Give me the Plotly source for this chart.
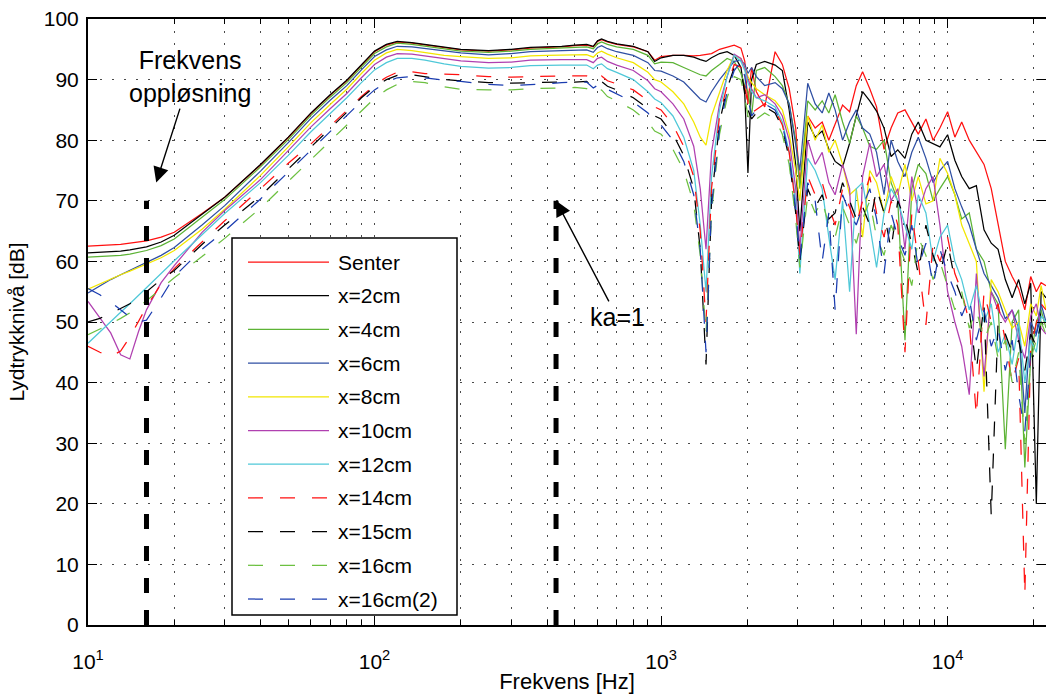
import math
import plotly.graph_objects as go

# ---------------- data ----------------
freq_hz = [
    10, 11, 12, 13, 14, 15, 16, 18, 20, 25,
    30, 40, 50, 60, 70, 80, 90, 100, 110, 120,
    135, 150, 175, 200, 250, 300, 350, 400, 450, 500,
    550, 580, 600, 620, 650, 700, 800, 900, 950, 1000,
    1100, 1200, 1300, 1370, 1435, 1500, 1600, 1700, 1800, 1900,
    1960, 2010, 2070, 2150, 2300, 2500, 2650, 2800, 2950, 3050,
    3250, 3450, 3650, 3850, 4050, 4300, 4550, 4800, 5050, 5350,
    5650, 6000, 6350, 6700, 7100, 7500, 7900, 8400, 8900, 9400,
    10000, 10600, 11200, 11900, 12600, 13400, 14200, 15000, 15900, 16800,
    17700, 18600, 19500, 20400, 21200, 22050,
]

senter = [
    62.5, 62.6, 62.7, 62.8, 63.0, 63.2, 63.4, 64.0, 64.8, 67.9,
    70.6, 75.9, 80.4, 84.4, 87.4, 89.8, 92.4, 94.6, 95.7, 96.2,
    96.0, 95.7, 95.2, 94.9, 94.7, 94.9, 95.2, 95.3, 95.4, 95.6,
    95.7, 95.4, 96.3, 96.6, 96.2, 95.8, 95.4, 94.6, 93.2, 93.8,
    94.0, 94.0, 93.9, 94.0, 94.1, 94.3, 95.0, 95.4, 95.7, 95.2,
    93.0, 86.0, 92.0, 88.0, 85.5, 94.6, 92.5, 88.5, 82.0, 73.0,
    84.0, 82.0, 83.0, 80.0, 82.8, 85.8, 84.7, 89.0, 91.3, 88.5,
    85.5, 78.5, 82.0, 84.5, 85.0, 83.0, 81.0, 83.5, 80.0, 82.0,
    84.7, 80.5, 83.0, 80.0, 78.0, 76.0, 72.0, 66.0, 60.0, 57.5,
    55.5, 52.0, 57.5, 55.0, 56.5, 56.0,
]
x_2cm = [
    61.4, 61.5, 61.6, 61.7, 61.9, 62.1, 62.4, 63.2, 64.3, 67.8,
    70.6, 76.0, 80.5, 84.5, 87.5, 89.9, 92.5, 94.7, 95.8, 96.3,
    96.1, 95.8, 95.3, 95.0, 94.8, 95.0, 95.3, 95.4, 95.5, 95.7,
    95.8, 95.5, 96.4, 96.7, 96.3, 95.9, 95.5, 94.6, 93.0, 93.6,
    94.0, 94.0, 93.7, 93.3, 93.0, 93.6, 94.3, 94.6, 94.0, 92.0,
    87.5, 74.6, 90.0, 92.5, 93.0, 92.4, 91.5, 85.0, 76.0, 65.0,
    83.0, 80.5, 81.5, 78.5, 76.5, 75.6, 79.5, 84.0, 88.0, 86.5,
    84.8, 82.0, 77.3, 78.4, 77.0, 81.0, 83.0, 80.0, 79.5, 78.9,
    80.9, 76.7, 74.0, 72.0, 72.5, 65.2, 63.0, 62.0, 57.0, 54.0,
    57.0, 53.0, 56.4, 20.0, 55.0, 54.0,
]
x_4cm = [
    60.7, 60.8, 60.9, 61.0, 61.2, 61.5, 61.8, 62.6, 63.7, 67.3,
    70.2, 75.6, 80.1, 84.1, 87.1, 89.5, 92.1, 94.3, 95.4, 96.0,
    95.8, 95.5, 95.0, 94.7, 94.5, 94.7, 95.0, 95.1, 95.2, 95.3,
    95.4, 95.1, 95.9, 96.2, 95.8, 95.4, 95.0, 94.0, 92.6, 92.9,
    92.8, 92.0, 91.2, 90.8, 90.6, 91.5, 92.5, 93.5, 93.0, 91.0,
    89.0, 88.0, 84.0, 91.5, 92.0, 90.5, 89.0, 86.0, 80.0, 72.0,
    86.5, 85.0, 86.5, 84.5, 87.5, 83.0, 79.5, 84.0, 82.0, 79.0,
    78.5, 80.0, 73.0, 70.0, 47.0, 72.0, 76.0, 74.5, 70.0, 72.0,
    74.0, 71.0, 67.0, 68.0, 62.0, 60.0, 55.0, 53.0, 29.0, 50.0,
    52.0, 26.0, 44.0, 50.0, 52.0, 49.0,
]
x_6cm = [
    54.8, 56.0, 57.0, 57.8, 58.5, 59.2, 59.8, 61.0, 62.3, 66.0,
    69.2, 74.9, 79.6, 83.6, 86.6, 89.0, 91.6, 93.8, 94.9, 95.5,
    95.4, 95.1, 94.7, 94.4, 94.1, 94.3, 94.6, 94.7, 94.7, 94.8,
    94.9, 94.5, 95.3, 95.6, 95.1, 94.6, 94.0, 92.8, 91.5, 91.4,
    90.6, 89.6, 88.0, 86.8, 86.3, 88.0, 90.0, 91.5, 93.0, 93.2,
    92.5, 91.0, 92.0, 90.5, 89.0, 89.5, 88.5, 86.0, 79.0, 75.0,
    89.4, 86.0, 84.5, 87.8, 85.0, 80.0, 83.0, 85.0, 82.0, 81.0,
    78.0, 71.0, 80.0, 76.5, 74.0, 78.0, 80.5, 77.0, 73.0, 75.0,
    76.5, 72.0, 69.0, 66.0, 62.0, 58.0, 56.0, 54.0, 50.5, 52.0,
    49.0, 35.0, 50.0, 48.0, 53.0, 50.0,
]
x_8cm = [
    55.4, 56.3, 57.1, 57.8, 58.4, 59.0, 59.5, 60.6, 61.8, 65.3,
    68.6, 74.2, 78.9, 82.9, 85.9, 88.4, 91.0, 93.2, 94.4, 95.0,
    94.8, 94.5, 94.0, 93.8, 93.5, 93.6, 93.9, 94.0, 94.0, 94.1,
    94.1, 93.7, 94.4, 94.7, 94.2, 93.6, 92.8, 91.2, 90.0, 89.6,
    88.0, 86.0, 83.0, 80.5, 79.2, 84.0, 88.0, 91.5, 94.0, 93.5,
    92.0, 90.5, 89.5, 88.5, 87.5, 86.5, 85.0, 81.0, 75.0, 70.0,
    84.0, 80.0, 82.5, 78.0, 80.0, 76.0, 71.0, 72.0, 64.0, 75.0,
    73.0, 68.0, 74.0, 71.0, 76.0, 70.0, 74.0, 69.5, 70.0, 77.0,
    74.5, 71.0, 66.0, 63.0, 60.0, 38.5, 57.0, 55.0, 52.0, 49.0,
    50.0, 46.0, 53.0, 51.0, 56.0, 52.0,
]
x_10cm = [
    53.4, 50.6, 48.2, 44.6, 43.9, 48.4, 52.0, 56.5, 59.3, 64.8,
    68.4, 73.5, 78.2, 82.2, 85.2, 87.7, 90.3, 92.5, 93.7, 94.3,
    94.2, 93.9, 93.4, 93.1, 92.8, 92.9, 93.2, 93.3, 93.3, 93.3,
    93.3, 92.8, 93.5, 93.7, 93.0, 92.4, 91.5, 89.8, 88.5, 88.0,
    86.0, 83.5, 79.0, 72.0, 62.0, 78.0, 86.0, 90.5, 94.2, 93.5,
    92.0, 90.0, 88.5, 87.0, 87.5, 86.0, 84.0, 80.0, 72.0, 62.0,
    80.0, 76.0, 78.0, 73.0, 71.0, 76.0, 72.0, 48.0, 74.0, 79.5,
    74.0, 76.0, 70.0, 72.0, 62.0, 74.0, 68.0, 72.0, 74.0, 66.0,
    55.0, 50.0, 46.0, 38.0, 58.0, 41.0, 55.0, 52.0, 50.0, 52.0,
    47.0, 44.0, 51.0, 53.0, 49.0, 48.0,
]
x_12cm = [
    46.5, 48.4, 50.0, 51.6, 53.0, 54.4, 55.7, 58.0, 60.1, 64.4,
    67.9, 73.0, 77.5, 81.4, 84.4, 87.0, 89.5, 91.6, 92.8, 93.5,
    93.5, 93.2, 92.6, 92.2, 91.9, 92.0, 92.3, 92.4, 92.4, 92.4,
    92.4, 91.8, 92.4, 92.6, 91.8, 91.2, 90.0, 88.0, 86.8, 86.2,
    84.0, 80.5, 75.0, 66.0, 55.0, 74.0, 85.0, 90.5, 94.0, 93.0,
    91.5, 89.5, 88.0, 87.0, 86.5, 85.5, 83.0, 78.0, 70.0, 58.0,
    77.0, 75.0, 72.0, 64.0, 57.0, 70.0, 55.0, 72.0, 73.0, 66.0,
    59.0, 68.0, 72.0, 70.0, 66.0, 62.0, 71.0, 68.0, 60.0, 64.0,
    66.0, 60.0, 57.0, 52.0, 56.0, 50.0, 53.0, 45.0, 48.0, 43.0,
    50.0, 40.0, 47.0, 45.0, 51.0, 50.0,
]
x_14cm = [
    46.0, 45.0, 44.3, 45.2, 47.5, 50.0, 52.5, 56.3, 58.8, 63.2,
    66.7, 72.0, 76.2, 79.4, 82.3, 84.9, 87.2, 89.1, 90.4, 91.2,
    91.3, 91.0, 90.9, 90.8, 90.5, 90.4, 90.5, 90.6, 90.6, 90.6,
    90.6, 89.8, 90.3, 90.6, 89.8, 89.3, 88.3, 86.5, 85.5, 85.0,
    82.5, 79.0, 74.0, 65.0, 50.0, 72.0, 84.0, 89.0, 92.5, 92.0,
    89.0, 86.0, 84.5, 85.0, 86.0, 85.0, 82.5, 78.0, 69.0, 61.0,
    74.0, 71.0, 73.0, 69.0, 66.0, 72.0, 69.0, 66.0, 70.0, 74.0,
    68.0, 64.0, 70.0, 66.0, 45.0, 68.0, 60.0, 49.5, 63.0, 60.0,
    64.0, 58.0, 55.0, 50.0, 34.5, 55.0, 50.0, 53.0, 47.0, 40.0,
    44.0, 5.0, 46.0, 50.0, 53.0, 52.0,
]
x_15cm = [
    50.0, 50.6, 51.4, 52.2, 53.0, 54.0, 55.0, 57.0, 58.5, 62.8,
    66.0, 70.8, 75.2, 78.9, 81.9, 84.6, 87.0, 88.8, 90.0, 90.7,
    90.8, 90.5, 90.0, 89.8, 89.5, 89.4, 89.5, 89.6, 89.6, 89.6,
    89.7, 88.8, 89.3, 89.7, 88.9, 88.3, 87.0, 85.2, 84.0, 83.5,
    81.0, 77.5, 72.0, 62.0, 43.0, 70.0, 83.0, 88.5, 92.0, 91.5,
    88.0, 85.0, 83.5, 84.5, 85.5, 84.5, 82.0, 77.0, 68.0, 60.0,
    72.0, 69.0, 71.0, 67.0, 68.0, 73.0, 70.0, 67.0, 69.0, 66.0,
    72.0, 68.0, 62.0, 70.0, 67.0, 63.0, 58.0, 66.0, 61.0, 58.0,
    63.0, 57.0, 54.0, 52.0, 42.0, 53.0, 18.0, 50.0, 48.0, 45.0,
    47.0, 42.0, 48.0, 46.0, 50.0, 49.0,
]
x_16cm = [
    47.9, 48.8, 49.7, 50.6, 51.5, 52.5, 53.5, 55.5, 57.3, 60.8,
    63.8, 68.8, 73.2, 76.9, 79.9, 82.5, 84.9, 86.9, 88.3, 89.2,
    89.7, 89.5, 88.8, 88.4, 88.3, 88.3, 88.5, 88.6, 88.6, 88.7,
    88.5, 87.5, 88.0, 88.3, 87.2, 86.5, 85.0, 83.0, 81.5, 81.0,
    78.5, 75.0, 69.5, 61.0, 48.0, 68.0, 81.0, 87.0, 90.5, 90.0,
    87.0, 84.0, 82.5, 83.5, 84.5, 83.5, 81.0, 76.0, 67.0, 59.0,
    71.0, 68.0, 70.0, 66.0, 64.0, 69.0, 66.0, 63.0, 67.0, 70.0,
    64.0, 61.0, 66.0, 63.0, 60.0, 56.0, 64.0, 61.0, 57.0, 60.0,
    56.0, 52.0, 55.0, 49.0, 52.0, 47.0, 50.0, 44.0, 47.0, 40.0,
    45.0, 30.0, 44.0, 47.0, 50.0, 48.0,
]
x_16cm_2 = [
    55.5, 54.5, 53.3, 52.0, 50.8, 50.0, 50.3, 54.0, 57.5, 62.0,
    65.0, 70.3, 74.7, 78.4, 81.4, 84.0, 86.4, 88.3, 89.6, 90.3,
    90.5, 90.3, 89.9, 89.7, 89.2, 89.0, 89.1, 89.3, 89.5, 89.6,
    89.6, 88.6, 89.0, 89.5, 88.4, 87.6, 86.3, 84.5, 83.0, 82.5,
    80.0, 76.5, 71.0, 62.0, 45.0, 69.0, 82.0, 88.0, 91.5, 93.0,
    90.5, 87.0, 84.0, 85.0, 86.0, 85.0, 82.5, 77.5, 68.5, 60.5,
    73.0, 70.0, 60.0, 68.0, 52.0, 71.0, 68.0, 66.0, 69.0, 72.0,
    67.0, 58.0, 68.0, 64.0, 61.0, 66.0, 59.0, 63.0, 56.0, 62.0,
    58.0, 55.0, 51.0, 54.0, 47.0, 52.0, 46.0, 49.0, 42.0, 47.0,
    38.0, 32.0, 45.0, 48.0, 51.0, 50.0,
]

series_names = ["Senter", "x=2cm", "x=4cm", "x=6cm", "x=8cm", "x=10cm",
                "x=12cm", "x=14cm", "x=15cm", "x=16cm", "x=16cm(2)"]
series_values = [senter, x_2cm, x_4cm, x_6cm, x_8cm, x_10cm,
                 x_12cm, x_14cm, x_15cm, x_16cm, x_16cm_2]

# vertical markers: frequency resolution and ka=1
marker_freqs = [16, 430]
marker_levels = [0, 70]

x_decades = [10, 100, 1000, 10000]
x_decade_labels = ["10<sup>1</sup>", "10<sup>2</sup>", "10<sup>3</sup>", "10<sup>4</sup>"]
x_minor = [m * d for d in (10, 100, 1000) for m in range(2, 10)] + [20000]

# ---------------- styles ----------------
colors = ["#ff1010", "#000000", "#5cb335", "#2f4fa3", "#f2e600", "#b040b0",
          "#4fc8d8", "#ff1010", "#000000", "#6cc040", "#1a3cb0"]
DASH = "15px,17px"
dashes = ["solid"] * 7 + [DASH] * 4
FONT = "Liberation Sans, Arial, Helvetica, sans-serif"
GRID_DASH = "2px,10px"
GRID_COLOR = "#4a4a4a"

fig = go.Figure()
for name, vals, col, dsh in zip(series_names, series_values, colors, dashes):
    fig.add_trace(go.Scatter(
        x=freq_hz, y=vals, mode="lines", name=name,
        line=dict(color=col, width=1.25, dash=dsh), showlegend=False,
    ))

for f in marker_freqs:
    fig.add_trace(go.Scatter(
        x=[f, f], y=marker_levels, mode="lines", showlegend=False,
        line=dict(color="black", width=5, dash=DASH), hoverinfo="skip",
    ))

# ---------------- custom legend (MATLAB style) ----------------
L, T, PW, PH = 88, 19, 958, 606


def px(xp):
    return (xp - L) / PW


def py(yp):
    return (T + PH - yp) / PH


fig.add_shape(type="rect", xref="paper", yref="paper",
              x0=px(232), x1=px(457), y0=py(615), y1=py(238),
              line=dict(color="black", width=1.5), fillcolor="white", layer="above")
for i, (name, col, dsh) in enumerate(zip(series_names, colors, dashes)):
    yy = 262 + i * 33.7
    fig.add_shape(type="line", xref="paper", yref="paper",
                  x0=px(248), x1=px(329), y0=py(yy), y1=py(yy),
                  line=dict(color=col, width=1.25, dash=dsh), layer="above")
    fig.add_annotation(xref="paper", yref="paper", x=px(336), y=py(yy),
                       text=name, showarrow=False, xanchor="left", yanchor="middle",
                       font=dict(size=21, family=FONT, color="black"))

# ---------------- text annotations with arrows ----------------
fig.add_annotation(
    x=math.log10(17.3), y=73.0, xref="x", yref="y",
    text="Frekvens<br>oppløsning", showarrow=True, ax=34, ay=-106,
    arrowhead=2, arrowsize=2.2, arrowwidth=1.4, arrowcolor="black", standoff=0,
    font=dict(size=25, family=FONT, color="black"),
)
fig.add_annotation(
    x=math.log10(430), y=70.0, xref="x", yref="y",
    text="ka=1", showarrow=True, ax=61, ay=116,
    arrowhead=2, arrowsize=2.2, arrowwidth=1.4, arrowcolor="black", standoff=0,
    font=dict(size=25, family=FONT, color="black"),
)

# ---------------- axes ----------------
fig.update_xaxes(
    type="log", range=[1, math.log10(22050)],
    tickmode="array", tickvals=x_decades, ticktext=x_decade_labels,
    ticks="inside", ticklen=9, tickwidth=1, tickcolor="black",
    showline=True, linecolor="black", linewidth=2, mirror="ticks",
    showgrid=True, gridcolor=GRID_COLOR, griddash=GRID_DASH, gridwidth=1,
    minor=dict(tickmode="array", tickvals=x_minor, ticks="inside", ticklen=5,
               tickcolor="black", showgrid=True, gridcolor=GRID_COLOR,
               griddash=GRID_DASH, gridwidth=1),
    zeroline=False, automargin=False,
    ticklabelstandoff=17,
    tickfont=dict(size=21, family=FONT, color="black"),
    title=dict(text="Frekvens [Hz]", font=dict(size=22, family=FONT, color="black"), standoff=1),
)
fig.update_yaxes(
    range=[0, 100], tickmode="linear", tick0=0, dtick=10,
    ticks="inside", ticklen=9, tickwidth=1, tickcolor="black",
    showline=True, linecolor="black", linewidth=2, mirror="ticks",
    showgrid=True, gridcolor=GRID_COLOR, griddash=GRID_DASH, gridwidth=1,
    zeroline=False, automargin=False,
    ticklabelstandoff=3,
    tickfont=dict(size=21, family=FONT, color="black"),
    title=dict(text="Lydtrykknivå [dB]", font=dict(size=21, family=FONT, color="black"), standoff=13),
)

fig.update_layout(
    width=1046, height=695,
    margin=dict(l=88, r=0, t=19, b=70, pad=0),
    paper_bgcolor="white", plot_bgcolor="white",
    font=dict(family=FONT, size=19, color="black"),
    showlegend=False,
)

fig.write_html("out.html")
